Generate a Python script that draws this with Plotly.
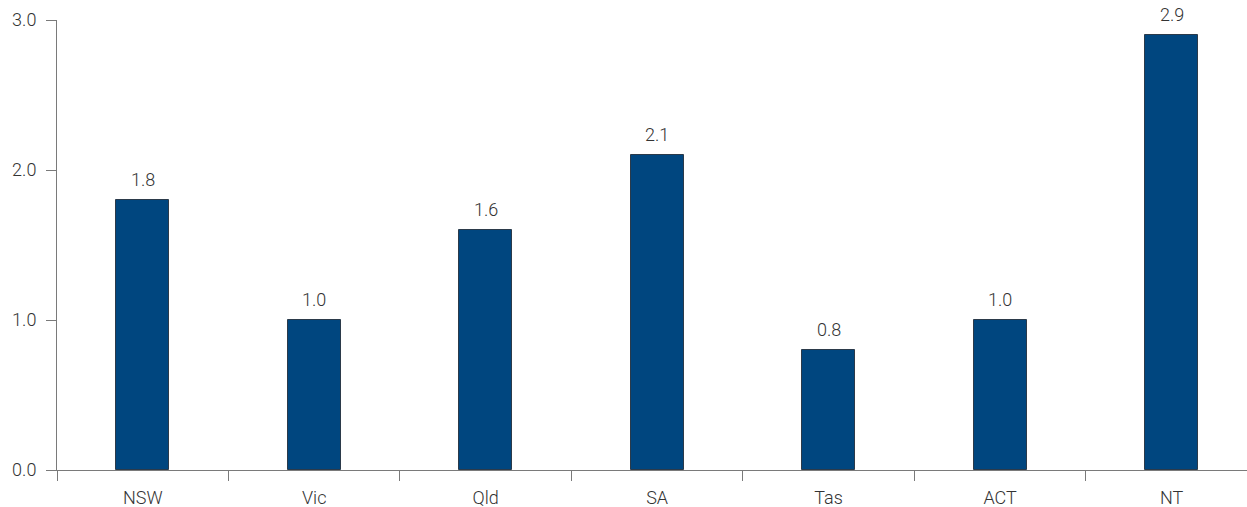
import plotly.graph_objects as go

states = ["NSW", "Vic", "Qld", "SA", "Tas", "ACT", "NT"]
values = [1.8, 1.0, 1.6, 2.1, 0.8, 1.0, 2.9]
y_ticks = [0, 1, 2, 3]
y_tick_labels = ["0.0", "1.0", "2.0", "3.0"]

bar_color = "#00467F"
axis_color = "#7a7a7a"
text_color = "#333333"
font_family = "Roboto"
label_font = dict(family=font_family, size=18, color=text_color, weight=300)

fig = go.Figure(
    go.Bar(
        x=states,
        y=values,
        width=0.31,
        marker=dict(color=bar_color, line=dict(color="#2b3a4a", width=1)),
    )
)

# value labels above each bar
for s, v in zip(states, values):
    fig.add_annotation(
        x=s, y=v, text=f"{v:.1f}", showarrow=False,
        yanchor="bottom", yshift=8, font=label_font,
    )

fig.update_layout(
    width=1247,
    height=507,
    margin=dict(l=57, r=0, t=20, b=37),
    paper_bgcolor="white",
    plot_bgcolor="white",
    showlegend=False,
    font=label_font,
    bargap=0,
)

fig.update_xaxes(
    type="category",
    range=[-0.5, 6.44],
    tickson="boundaries",
    ticks="outside",
    ticklen=10,
    tickcolor=axis_color,
    tickwidth=1,
    ticklabelstandoff=11,
    showline=True,
    linecolor=axis_color,
    linewidth=1,
    showgrid=False,
    tickfont=label_font,
)

fig.update_yaxes(
    range=[0, 3],
    tickvals=y_ticks,
    ticktext=y_tick_labels,
    ticks="outside",
    ticklen=10,
    tickcolor=axis_color,
    tickwidth=1,
    ticklabelstandoff=6,
    showline=True,
    linecolor=axis_color,
    linewidth=1,
    showgrid=False,
    zeroline=False,
    tickfont=label_font,
)

fig.write_html("out.html")
